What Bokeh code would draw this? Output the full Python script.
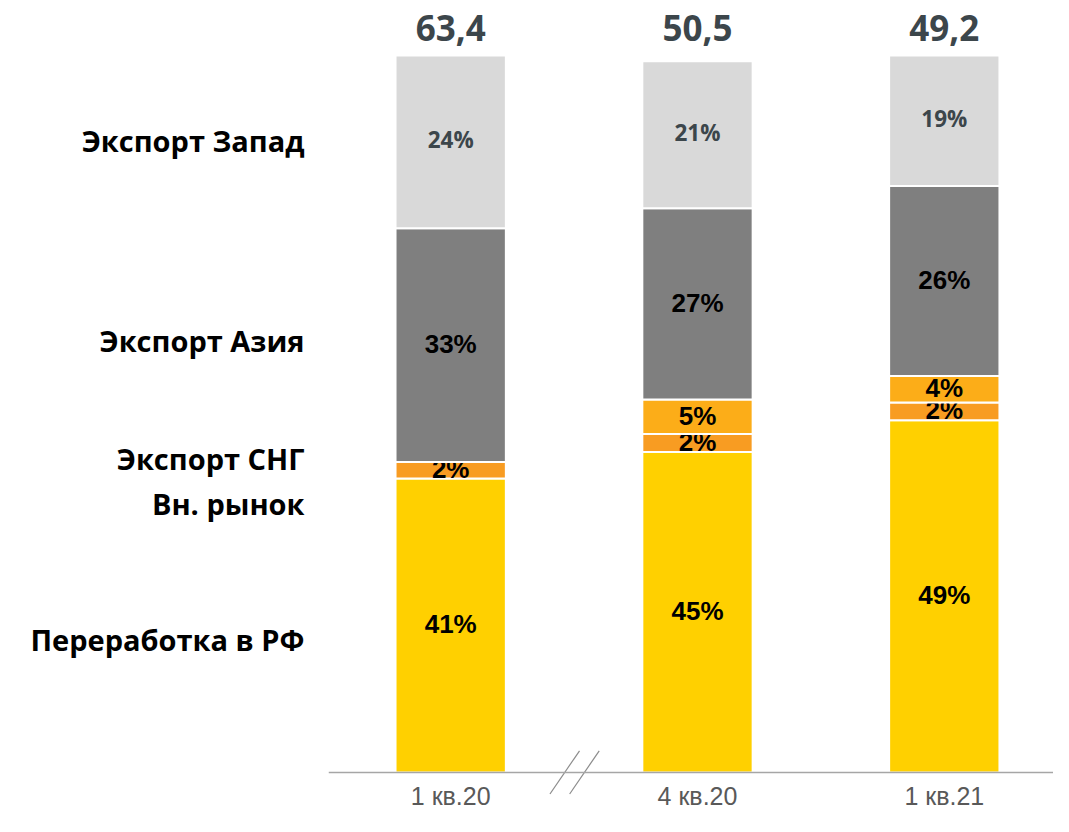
from bokeh.plotting import figure
from bokeh.models import ColumnDataSource, Span, FixedTicker, Range1d
from bokeh.core.properties import value
from bokeh.embed import file_html
from bokeh.resources import INLINE

# ---- data ----
periods = ["1 кв.20", "4 кв.20", "1 кв.21"]
totals = ["63,4", "50,5", "49,2"]
series_names = ["Переработка в РФ", "Вн. рынок", "Экспорт СНГ", "Экспорт Азия", "Экспорт Запад"]
pererabotka = [41.0, 44.7, 49.1]
vn_rynok = [2.3, 2.5, 2.5]
eksport_sng = [0.0, 4.8, 3.7]
eksport_aziya = [32.6, 26.7, 26.5]
eksport_zapad = [24.1, 20.5, 18.2]
label_pererabotka = ["41%", "45%", "49%"]
label_vn_rynok = ["2%", "2%", "2%"]
label_sng = ["", "5%", "4%"]
label_aziya = ["33%", "27%", "26%"]
label_zapad = ["24%", "21%", "19%"]

# ---- layout / style ----
colors = ["#FFD000", "#F89C22", "#FCAD18", "#7F7F7F", "#D9D9D9"]
legend_y = [18.5, 37.5, 43.8, 60.2, 88.2]  # vertical positions of left-side names
totals_y = 103.4                           # vertical position of the totals row

series = [pererabotka, vn_rynok, eksport_sng, eksport_aziya, eksport_zapad]
labels = [label_pererabotka, label_vn_rynok, label_sng, label_aziya, label_zapad]

W, H = 1053, 816
p = figure(width=W, height=H, output_backend="svg", toolbar_location=None,
           x_range=Range1d(-0.4951, 2.4425), y_range=Range1d(-6.15, 107.66),
           min_border_left=328, min_border_right=0, min_border_top=0, min_border_bottom=0)
p.xaxis.visible = False
p.grid.visible = False
p.outline_line_color = None
p.background_fill_color = "white"
p.border_fill_color = "white"

xs = [0, 1, 2]
bottoms = [0.0, 0.0, 0.0]
for i, vals in enumerate(series):
    tops = [b + v for b, v in zip(bottoms, vals)]
    mids = [(b + t) / 2 for b, t in zip(bottoms, tops)]
    src = ColumnDataSource(dict(x=xs, bottom=bottoms, top=tops, mid=mids, lab=labels[i]))
    p.vbar(x="x", bottom="bottom", top="top", width=0.447, source=src,
           fill_color=colors[i], line_color="white", line_width=2)
    if i == 4:
        p.text(x="x", y="mid", text="lab", source=src, text_align="center", text_baseline="middle",
               y_offset=-2, text_font=value("Open Sans"), text_font_style="bold",
               text_font_size="22.5px", text_color="#3C464B")
    else:
        p.text(x="x", y="mid", text="lab", source=src, text_align="center", text_baseline="middle",
               y_offset=-1, text_font=value("Liberation Sans"), text_font_style="bold",
               text_font_size="26px", text_color="black")
    bottoms = tops

# totals above bars
tsrc = ColumnDataSource(dict(x=xs, y=[totals_y] * 3, t=totals))
p.text(x="x", y="y", text="t", source=tsrc, text_align="center", text_baseline="middle",
       y_offset=-3, text_font=value("Open Sans"), text_font_style="bold", text_font_size="35px",
       text_color="#3C464B")

# baseline axis
p.add_layout(Span(location=0, dimension="width", line_color="#A6A6A6", line_width=1.5))

# category labels
csrc = ColumnDataSource(dict(x=xs, y=[0, 0, 0], t=periods))
p.text(x="x", y="y", text="t", source=csrc, text_align="center", text_baseline="top",
       y_offset=10, text_font=value("Liberation Sans"), text_font_size="25px", text_color="#595959")

# axis break mark between first and second period
px_x = 1 / 250.5
px_y = 1 / 7.31
mid = 0.5
bx0 = [mid - 24.5 * px_x, mid - 4.5 * px_x]
bx1 = [mid + 5.5 * px_x, mid + 25.5 * px_x]
p.segment(x0=bx0, y0=[-22 * px_y] * 2, x1=bx1, y1=[22 * px_y] * 2, line_color="#8C8C8C", line_width=1.2)

# left names via y axis
p.yaxis.ticker = FixedTicker(ticks=legend_y)
p.yaxis.major_label_overrides = {y: n for y, n in zip(legend_y, series_names)}
p.yaxis.axis_line_color = None
p.yaxis.major_tick_line_color = None
p.yaxis.minor_tick_line_color = None
p.yaxis.major_tick_in = 0
p.yaxis.major_tick_out = 0
p.yaxis.major_label_standoff = 24
p.yaxis.major_label_text_font = "Open Sans"
p.yaxis.major_label_text_font_style = "bold"
p.yaxis.major_label_text_font_size = "29px"
p.yaxis.major_label_text_color = "black"

open("out.html", "w").write(file_html(p, INLINE))
